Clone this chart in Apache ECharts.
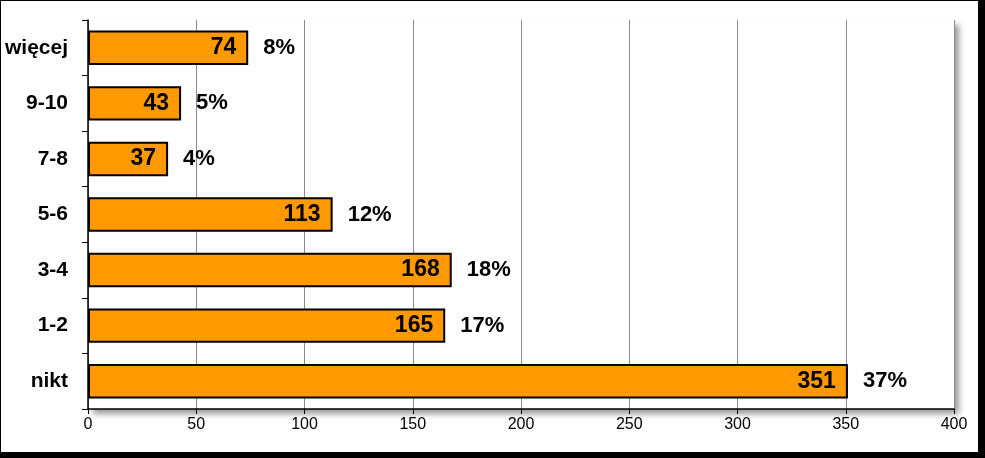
<!DOCTYPE html>
<html><head><meta charset="utf-8">
<script src="https://cdn.jsdelivr.net/npm/echarts@6/dist/echarts.min.js"></script>
<style>
html,body{margin:0;padding:0;background:#fff;}
#frame{position:absolute;left:0;top:0;width:977px;height:451px;border-left:1px solid #000;border-top:1px solid #000;border-right:7px solid #000;border-bottom:6px solid #000;background:#fff;}
#c{position:absolute;left:0;top:0;width:977px;height:451px;}
</style></head>
<body><div id="frame"><div id="c"></div></div>
<script>
const categories = ['nikt','1-2','3-4','5-6','7-8','9-10','więcej'];
const counts = [351,165,168,113,37,43,74];
const percents = ['37%','17%','18%','12%','4%','5%','8%'];
const xTicks = [0,50,100,150,200,250,300,350,400];

const chart = echarts.init(document.getElementById('c'));
chart.setOption({
  animation:false,
  grid:{left:87,right:24,top:19,bottom:43,show:true,backgroundColor:'#fff',borderWidth:0,
        shadowColor:'rgba(0,0,0,0.4)',shadowBlur:6,shadowOffsetX:5,shadowOffsetY:5},
  xAxis:{type:'value',min:xTicks[0],max:xTicks[xTicks.length-1],interval:50,
    axisLine:{show:true,lineStyle:{color:'#000',width:1.5}},
    axisTick:{show:true,length:5,lineStyle:{color:'#000'}},
    axisLabel:{color:'#000',fontFamily:'Liberation Sans, Arial',fontSize:16,margin:8},
    splitLine:{show:true,lineStyle:{color:'#8a8a8a',width:1}}},
  yAxis:{type:'category',data:categories,
    axisLine:{show:true,lineStyle:{color:'#000',width:1.5}},
    axisTick:{show:true,length:6,lineStyle:{color:'#000'}},
    axisLabel:{color:'#000',fontFamily:'Liberation Sans, Arial',fontSize:21,fontWeight:'bold',margin:20}},
  series:[
    {type:'bar',data:counts,barCategoryGap:'38%',
     itemStyle:{color:'#FF9900',borderColor:'#000',borderWidth:2},
     label:{show:true,position:'insideRight',distance:12,color:'#000',fontFamily:'Liberation Sans, Arial',fontSize:23,fontWeight:'bold'}},
    {type:'bar',data:counts,barGap:'-100%',silent:true,
     itemStyle:{color:'rgba(0,0,0,0)'},
     label:{show:true,position:'right',distance:15,color:'#000',fontFamily:'Liberation Sans, Arial',fontSize:22,fontWeight:'bold',
       formatter:p=>percents[p.dataIndex]}}
  ]
});
</script></body></html>
